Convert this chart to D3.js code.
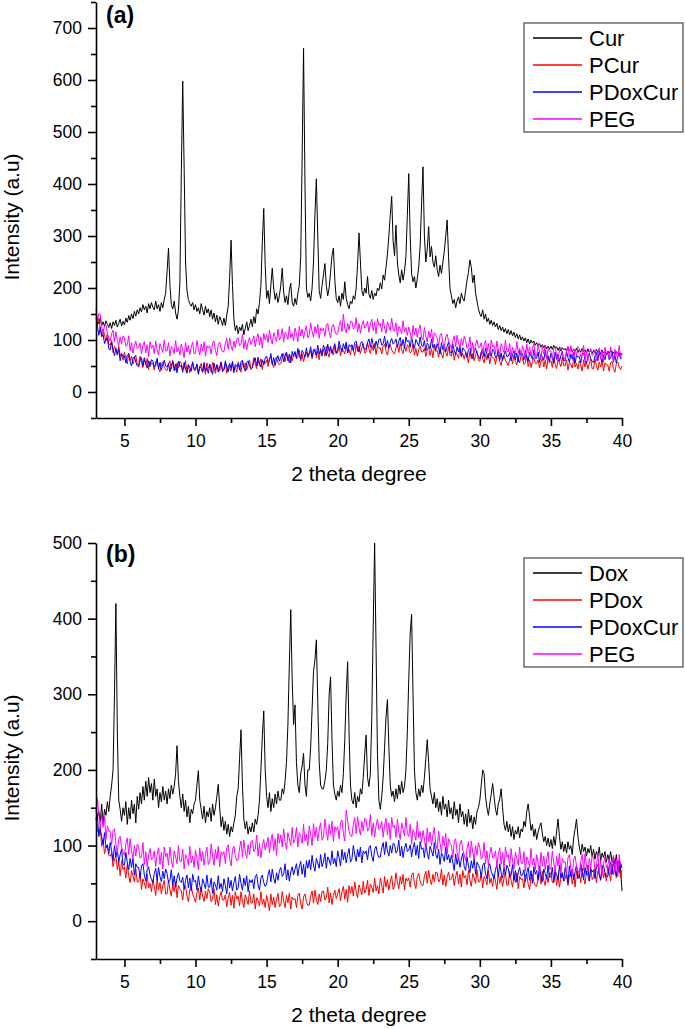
<!DOCTYPE html>
<html>
<head>
<meta charset="utf-8">
<script src="https://cdnjs.cloudflare.com/ajax/libs/d3/7.8.5/d3.min.js"></script>
<style>
  body { margin: 0; background: #fff; }
  svg { display: block; font-family: "Liberation Sans", Arial, sans-serif; }
  .axis path, .axis line { stroke: #000; stroke-width: 1.6; }
  .axis text { font-size: 17.5px; fill: #000; font-family: "Liberation Sans", Arial, sans-serif; }
</style>
</head>
<body>
<div id="chart"></div>
<script>
// 2 theta grid: first value and sampling step (one value per 0.1 degree)
var thetaStart = 3;
var thetaStep = 0.1;

var xTicks = [5, 10, 15, 20, 25, 30, 35, 40];
var xMinor = [7.5, 12.5, 17.5, 22.5, 27.5, 32.5, 37.5];
var yTicksA = [0, 100, 200, 300, 400, 500, 600, 700];
var yMinorA = [-50, 50, 150, 250, 350, 450, 550, 650, 750];
var yTicksB = [0, 100, 200, 300, 400, 500];
var yMinorB = [-50, 50, 150, 250, 350, 450];

var namesA = ["Cur", "PCur", "PDoxCur", "PEG"];
var namesB = ["Dox", "PDox", "PDoxCur", "PEG"];
var colors = ["#000000", "#ff0000", "#0000ff", "#ff00ff"];

// ---- panel (a) ----  (one row = one degree, 3.0 .. 39.9, then 40.0)
var cur = [
  152,138,131,142,128,135,126,137,130,124,
  133,122,135,128,138,125,132,140,127,136,
  129,142,134,147,138,150,141,155,146,158,
  150,162,154,168,158,165,152,170,160,172,
  163,158,175,160,168,155,172,162,178,190,
  232,277,205,168,160,175,152,140,158,210,
  420,598,430,250,195,178,170,165,172,158,
  168,155,162,150,170,158,148,165,152,160,
  145,158,140,152,135,148,130,145,138,128,
  142,128,148,165,220,292,205,140,118,128,
  112,125,118,130,110,122,135,118,128,140,
  125,145,132,160,150,172,205,290,353,245,
  180,195,170,205,238,200,178,190,172,185,
  205,238,192,172,185,168,195,209,172,165,
  180,168,190,205,260,450,661,400,200,182,
  190,175,200,250,340,410,300,195,180,205,
  225,247,205,185,200,230,262,277,215,180,
  172,185,165,190,178,212,180,168,160,175,
  170,185,178,200,245,306,250,195,185,200,
  190,222,188,180,195,178,190,185,200,195,
  210,198,225,215,240,265,300,340,376,290,
  262,321,250,225,210,235,215,232,260,340,
  420,300,228,212,222,200,218,240,280,360,
  433,300,250,275,318,260,280,250,240,262,
  235,222,244,228,250,270,300,331,260,200,
  185,170,178,162,175,183,170,190,180,175,
  195,215,230,254,240,210,225,190,175,160,
  150,145,158,140,150,135,142,130,138,128,
  135,125,132,120,128,118,125,115,122,112,
  120,110,118,108,115,105,112,102,110,100,
  106,98,104,95,102,92,100,94,98,90,
  95,88,93,86,91,85,90,83,88,82,
  88,82,90,84,87,80,86,79,85,81,
  84,78,86,80,83,77,82,79,84,76,
  82,77,84,78,81,75,83,76,80,74,
  80,75,82,76,79,73,81,75,78,72,
  79,74,80,73,77,72,78,74,76,71,
  75
];

var pCur = [
  150,130,142,123,109,121,110,98,112,92,
  90,99,76,88,81,71,88,69,74,61,
  76,66,54,75,60,69,54,64,71,52,
  52,69,57,47,63,52,65,43,59,54,
  55,42,58,61,46,39,55,58,48,43,
  41,53,60,44,61,49,42,56,46,59,
  55,43,46,60,39,52,37,49,56,45,
  45,52,36,48,55,38,51,34,56,46,
  51,38,57,44,36,53,47,40,58,42,
  44,56,36,51,47,40,59,42,49,38,
  58,49,38,60,46,56,42,53,61,43,
  48,66,54,45,61,51,64,43,59,55,
  61,49,65,68,54,47,63,67,57,52,
  55,67,74,58,75,63,56,70,60,73,
  76,64,67,81,60,73,58,70,77,66,
  73,80,64,76,83,66,79,62,84,74,
  82,69,88,75,67,84,78,71,89,73,
  77,89,69,84,80,73,92,75,82,71,
  90,81,70,92,78,88,74,85,93,75,
  77,95,83,74,90,80,93,72,88,84,
  85,73,89,92,78,71,87,91,81,76,
  73,85,92,76,93,81,74,88,78,91,
  87,75,78,92,71,84,69,81,88,77,
  77,84,68,80,87,70,83,66,88,78,
  80,67,86,73,65,82,76,69,87,71,
  69,81,61,76,72,65,84,67,74,63,
  76,67,56,78,64,74,60,71,79,61,
  59,77,65,56,72,62,75,54,70,66,
  65,53,69,72,58,51,67,71,61,56,
  51,63,70,54,71,59,52,66,56,69,
  65,53,56,70,49,62,47,59,66,55,
  55,62,46,58,65,48,61,44,66,56,
  60,47,66,53,45,62,56,49,67,51,
  50,62,42,57,53,46,65,48,55,44,
  60,51,40,62,48,58,44,55,63,45,
  45,63,51,42,58,48,61,40,56,52,
  52,40,56,59,45,38,54,58,48,43,
  50
];

var pDoxCurA = [
  143,127,109,125,106,111,93,100,104,83,
  81,96,81,70,84,72,83,60,74,69,
  69,56,71,73,58,50,65,68,57,51,
  48,60,66,50,66,54,46,60,49,62,
  60,48,51,65,44,57,42,54,61,50,
  48,55,39,51,58,41,54,37,59,49,
  51,38,57,44,36,53,47,40,58,42,
  42,54,34,49,45,38,57,40,47,36,
  54,45,34,56,42,52,38,49,57,39,
  42,60,48,39,55,45,58,37,53,49,
  54,42,58,61,47,40,56,60,50,45,
  47,59,66,50,67,55,48,62,52,65,
  69,57,60,74,53,66,51,63,70,59,
  67,74,58,70,77,60,73,56,78,68,
  78,65,84,71,63,80,74,67,85,69,
  75,87,67,82,78,71,90,73,80,69,
  90,81,70,92,78,88,74,85,93,75,
  80,98,86,77,93,83,96,75,91,87,
  91,79,95,98,84,77,93,97,87,82,
  83,95,102,86,103,91,84,98,88,101,
  102,90,93,107,86,99,84,96,103,92,
  95,102,86,98,105,88,101,84,106,96,
  99,86,105,92,84,101,95,88,106,90,
  87,99,79,94,90,83,102,85,92,81,
  93,84,73,95,81,91,77,88,96,78,
  74,92,80,71,87,77,90,69,85,81,
  78,66,82,85,71,64,80,84,74,69,
  64,76,83,67,84,72,65,79,69,82,
  78,66,69,83,62,75,60,72,79,68,
  69,76,60,72,79,62,75,58,80,70,
  74,61,80,67,59,76,70,63,81,65,
  65,77,57,72,68,61,80,63,70,59,
  75,66,55,77,63,73,59,70,78,60,
  60,78,66,57,73,63,76,55,71,67,
  68,56,72,75,61,54,70,74,64,59,
  57,69,76,60,77,65,58,72,62,75,
  74,62,65,79,58,71,56,68,75,64,
  66
];

var pegA = [
  161,137,151,149,126,111,128,129,113,104,
  98,112,119,96,116,99,89,106,92,108,
  104,88,90,108,79,95,75,89,98,83,
  86,94,73,89,97,75,91,68,97,84,
  90,74,98,81,71,93,85,76,100,79,
  79,95,69,88,83,74,99,77,86,71,
  92,81,66,95,77,90,72,86,96,73,
  75,99,83,71,92,79,96,69,89,84,
  89,73,94,98,80,70,91,96,83,77,
  78,94,103,82,104,89,80,98,85,102,
  104,89,92,111,83,100,81,96,105,91,
  99,108,87,103,112,90,106,84,113,100,
  111,95,119,102,92,114,106,97,121,100,
  106,122,96,115,110,101,126,104,113,98,
  123,112,97,126,108,121,103,117,127,104,
  109,133,117,105,126,113,130,103,123,118,
  123,107,128,132,114,104,125,130,117,111,
  112,128,137,116,150,123,114,132,119,136,
  136,121,124,143,115,132,113,128,137,123,
  127,136,115,131,140,118,134,112,141,128,
  132,116,140,123,113,135,127,118,142,121,
  117,133,107,126,121,112,137,115,124,109,
  125,114,99,128,110,123,105,119,129,106,
  100,124,108,96,117,104,121,94,114,109,
  104,88,109,113,95,85,106,111,98,92,
  83,99,108,87,109,94,85,103,90,107,
  99,84,87,106,78,95,76,91,100,86,
  86,95,74,90,99,77,93,71,100,87,
  90,74,98,81,71,93,85,76,100,79,
  77,93,67,86,81,72,97,75,84,69,
  89,78,63,92,74,87,69,83,93,70,
  69,93,77,65,86,73,90,63,83,78,
  79,63,84,88,70,60,81,86,73,67,
  63,79,88,67,89,74,65,83,70,87,
  83,68,71,90,62,79,60,75,84,70,
  72,81,60,76,85,63,79,57,86,73,
  79,63,87,70,60,82,74,65,89,68,
  72
];

// ---- panel (b) ----
var dox = [
  150,138,145,132,155,128,148,140,158,145,
  165,180,200,300,420,250,160,148,132,150,
  140,158,128,150,135,160,142,155,130,165,
  148,170,155,178,160,185,165,190,170,182,
  160,188,165,175,150,170,158,178,160,172,
  155,175,162,180,168,178,195,232,185,165,
  150,168,145,160,138,152,130,148,142,155,
  160,180,199,160,148,135,152,130,145,138,
  150,132,155,140,150,165,181,150,125,138,
  120,132,115,128,112,125,118,130,140,165,
  175,215,253,180,135,122,132,115,125,118,
  130,118,135,128,140,160,200,245,278,200,
  165,150,170,145,162,150,168,155,172,160,
  160,175,168,185,210,260,340,412,320,260,
  286,210,180,170,195,205,222,180,165,200,
  200,230,280,330,345,372,290,210,180,175,
  175,185,200,235,300,323,240,180,168,160,
  172,165,180,170,195,240,300,343,250,180,
  160,155,170,150,165,158,175,168,190,220,
  246,190,178,195,270,390,500,360,220,160,
  148,165,190,230,270,293,230,180,165,172,
  158,175,162,180,168,185,170,178,200,250,
  320,380,406,300,200,170,160,175,165,180,
  170,190,215,240,210,175,165,155,170,150,
  162,145,158,140,165,148,155,138,160,142,
  150,135,158,140,148,130,155,138,145,128,
  142,125,148,130,140,122,138,128,145,150,
  160,180,200,195,165,150,140,155,168,182,
  165,148,140,155,162,175,150,128,120,132,
  118,128,112,125,108,120,115,125,110,122,
  118,132,125,145,155,138,120,128,112,122,
  108,118,125,130,115,105,112,100,110,98,
  108,96,112,100,118,135,112,95,105,92,
  102,90,105,95,100,88,110,122,135,112,
  98,88,102,92,98,86,96,90,100,85,
  95,82,92,86,98,80,90,84,92,78,
  88,80,92,78,85,75,88,72,80,70,
  40
];

var pDox = [
  137,119,116,125,99,108,89,97,101,87,
  86,90,72,82,87,68,79,60,80,68,
  72,57,75,60,51,67,60,52,69,52,
  52,63,42,56,51,43,62,44,50,39,
  55,46,34,56,41,51,36,47,54,36,
  36,54,42,33,49,39,52,31,47,43,
  40,28,44,47,33,26,42,46,36,31,
  25,37,44,28,45,33,26,40,30,43,
  38,26,29,43,22,35,20,32,39,28,
  28,35,19,31,38,21,34,17,39,29,
  33,20,39,26,18,35,29,22,40,24,
  24,36,16,31,27,20,39,22,29,18,
  34,25,14,36,22,32,18,29,37,19,
  21,39,27,18,34,24,37,16,32,28,
  30,18,34,37,23,16,32,36,26,21,
  21,33,40,24,41,29,22,36,26,39,
  40,28,31,45,24,37,22,34,41,30,
  36,43,27,39,46,29,42,25,47,37,
  46,33,52,39,31,48,42,35,53,37,
  42,54,34,49,45,38,57,40,47,36,
  57,48,37,59,45,55,41,52,60,42,
  46,64,52,43,59,49,62,41,57,53,
  57,45,61,64,50,43,59,63,53,48,
  47,59,66,50,67,55,48,62,52,65,
  64,52,55,69,48,61,46,58,65,54,
  56,63,47,59,66,49,62,45,67,57,
  61,48,67,54,46,63,57,50,68,52,
  52,64,44,59,55,48,67,50,57,46,
  62,53,42,64,50,60,46,57,65,47,
  48,66,54,45,61,51,64,43,59,55,
  56,44,60,63,49,42,58,62,52,47,
  46,58,65,49,66,54,47,61,51,64,
  63,51,54,68,47,60,45,57,64,53,
  56,63,47,59,66,49,62,45,67,57,
  64,51,70,57,49,66,60,53,71,55,
  59,71,51,66,62,55,74,57,64,53,
  73,64,53,75,61,71,57,68,76,58,
  68
];

var pDoxCurB = [
  135,139,112,121,112,101,117,97,101,89,
  104,93,80,100,85,94,78,88,95,75,
  74,91,78,68,83,71,83,61,76,71,
  71,58,73,76,61,53,68,72,61,55,
  51,63,70,54,71,59,52,66,56,69,
  63,51,54,68,47,60,45,57,64,53,
  51,58,42,54,61,44,57,40,62,52,
  54,41,60,47,39,56,50,43,61,45,
  45,57,37,52,48,41,60,43,50,39,
  56,47,36,58,44,54,40,51,59,41,
  44,62,50,41,57,47,60,39,55,51,
  55,43,59,62,48,41,57,61,51,46,
  49,61,68,52,69,57,50,64,54,67,
  71,59,62,76,55,68,53,65,72,61,
  69,76,60,72,79,62,75,58,80,70,
  81,68,87,74,66,83,77,70,88,72,
  78,90,70,85,81,74,93,76,83,72,
  93,84,73,95,81,91,77,88,96,78,
  82,100,88,79,95,85,98,77,93,89,
  93,81,97,100,86,79,95,99,89,84,
  85,97,104,88,105,93,86,100,90,103,
  102,90,93,107,86,99,84,96,103,92,
  94,101,85,97,104,87,100,83,105,95,
  97,84,103,90,82,99,93,86,104,88,
  83,95,75,90,86,79,98,81,88,77,
  87,78,67,89,75,85,71,82,90,72,
  67,85,73,64,80,70,83,62,78,74,
  70,58,74,77,63,56,72,76,66,61,
  56,68,75,59,76,64,57,71,61,74,
  70,58,61,75,54,67,52,64,71,60,
  61,68,52,64,71,54,67,50,72,62,
  67,54,73,60,52,69,63,56,74,58,
  59,71,51,66,62,55,74,57,64,53,
  71,62,51,73,59,69,55,66,74,56,
  58,76,64,55,71,61,74,53,69,65,
  68,56,72,75,61,54,70,74,64,59,
  59,71,78,62,79,67,60,74,64,77,
  70
];

var pegB = [
  144,162,141,124,141,124,138,108,126,119,
  119,101,120,122,102,90,109,112,98,91,
  87,102,110,88,109,93,83,100,86,102,
  98,83,85,104,75,92,72,87,96,81,
  84,93,72,88,97,75,91,69,98,85,
  90,74,98,81,71,93,85,76,100,79,
  79,95,69,88,83,74,99,77,86,71,
  94,83,68,97,79,92,74,88,98,75,
  78,102,86,74,95,82,99,72,92,87,
  92,76,97,101,83,73,94,99,86,80,
  81,97,106,85,107,92,83,101,88,105,
  107,92,95,114,86,103,84,99,108,94,
  102,111,90,106,115,93,109,87,116,103,
  114,98,122,105,95,117,109,100,124,103,
  108,124,98,117,112,103,128,106,115,100,
  126,115,100,129,111,124,106,120,130,107,
  111,135,119,107,128,115,132,105,125,120,
  125,109,130,134,116,106,147,132,119,113,
  112,128,137,116,138,123,114,132,119,136,
  134,119,122,141,113,130,111,126,135,121,
  123,132,111,127,136,114,130,108,137,124,
  127,111,135,118,108,130,122,113,137,116,
  112,128,102,121,116,107,132,110,119,104,
  120,109,94,123,105,118,100,114,124,101,
  95,119,103,91,112,99,116,89,109,104,
  100,84,105,109,91,81,102,107,94,88,
  80,96,105,84,106,91,82,100,87,104,
  97,82,85,104,76,93,74,89,98,84,
  84,93,72,88,97,75,91,69,98,85,
  88,72,96,79,69,91,83,74,98,77,
  76,92,66,85,80,71,96,74,83,68,
  88,77,62,91,73,86,68,82,92,69,
  69,93,77,65,86,73,90,63,83,78,
  79,63,84,88,70,60,81,86,73,67,
  63,79,88,67,89,74,65,83,70,87,
  84,69,72,91,63,80,61,76,85,71,
  74,83,62,78,87,65,81,59,88,75,
  75
];

var W = 685, H = 1029;

var svg = d3.select("#chart")
  .append("svg")
  .attr("width", W)
  .attr("height", H)
  .attr("viewBox", "0 0 " + W + " " + H);

function xrd_panel(options, data) {

  var xScale = d3.scaleLinear()
    .domain([3, 40])
    .range([options.left, options.right]);

  var yScale = d3.scaleLinear()
    .domain(options.yDomain)
    .range([options.bottom, options.top]);

  var panel = svg.append("g").attr("class", "panel");

  var line = d3.line()
    .x(function(d, i) { return xScale(thetaStart + i * thetaStep); })
    .y(function(d) { return yScale(d); });

  // traces, drawn in legend order so PEG sits on top
  data.forEach(function(values, k) {
    panel.append("path")
      .datum(values)
      .attr("fill", "none")
      .attr("stroke", colors[k])
      .attr("stroke-width", 1)
      .attr("stroke-linejoin", "round")
      .attr("d", line);
  });

  // x axis, major + minor ticks
  panel.append("g")
    .attr("class", "axis")
    .attr("transform", "translate(0," + options.bottom + ")")
    .call(d3.axisBottom(xScale).tickValues(xTicks).tickSize(8).tickSizeOuter(0).tickPadding(9));

  panel.append("g")
    .attr("class", "axis")
    .attr("transform", "translate(0," + options.bottom + ")")
    .call(d3.axisBottom(xScale).tickValues(xMinor).tickSize(5).tickSizeOuter(0).tickFormat(""))
    .select(".domain").remove();

  // y axis
  panel.append("g")
    .attr("class", "axis")
    .attr("transform", "translate(" + options.left + ",0)")
    .call(d3.axisLeft(yScale).tickValues(options.yTicks).tickSize(8).tickSizeOuter(0).tickPadding(6));

  panel.append("g")
    .attr("class", "axis")
    .attr("transform", "translate(" + options.left + ",0)")
    .call(d3.axisLeft(yScale).tickValues(options.yMinor).tickSize(5).tickSizeOuter(0).tickFormat(""))
    .select(".domain").remove();

  // axis titles
  panel.append("text")
    .attr("x", (options.left + options.right) / 2)
    .attr("y", options.bottom + 63)
    .attr("text-anchor", "middle")
    .style("font-size", "21px")
    .text("2 theta degree");

  panel.append("text")
    .attr("transform", "translate(19," + options.yTitleAt + ") rotate(-90)")
    .attr("text-anchor", "middle")
    .style("font-size", "21px")
    .text("Intensity (a.u)");

  // panel tag
  panel.append("text")
    .attr("x", 106)
    .attr("y", options.tagY)
    .style("font-size", "23px")
    .style("font-weight", "bold")
    .text(options.tag);

  // legend
  var lg = panel.append("g")
    .attr("transform", "translate(524," + options.legendTop + ")");

  lg.append("rect")
    .attr("x", 0).attr("y", 0)
    .attr("width", 159).attr("height", 109)
    .attr("fill", "#fff")
    .attr("stroke", "#555")
    .attr("stroke-width", 1.3);

  options.names.forEach(function(name, k) {
    var cy = 15 + k * 27;
    lg.append("line")
      .attr("x1", 9).attr("x2", 58)
      .attr("y1", cy).attr("y2", cy)
      .attr("stroke", colors[k])
      .attr("stroke-width", 1.3);
    lg.append("text")
      .attr("x", 65)
      .attr("y", cy + 7.5)
      .style("font-size", "22px")
      .text(name);
  });

} // xrd_panel

xrd_panel({
  left: 96, right: 622, top: 2, bottom: 418,
  yDomain: [-50, 750], yTicks: yTicksA, yMinor: yMinorA,
  yTitleAt: 217, tag: "(a)", tagY: 23, legendTop: 23, names: namesA
}, [cur, pCur, pDoxCurA, pegA]);

xrd_panel({
  left: 96, right: 622, top: 543, bottom: 959,
  yDomain: [-50, 500], yTicks: yTicksB, yMinor: yMinorB,
  yTitleAt: 758, tag: "(b)", tagY: 562, legendTop: 558, names: namesB
}, [dox, pDox, pDoxCurB, pegB]);
</script>
</body>
</html>
